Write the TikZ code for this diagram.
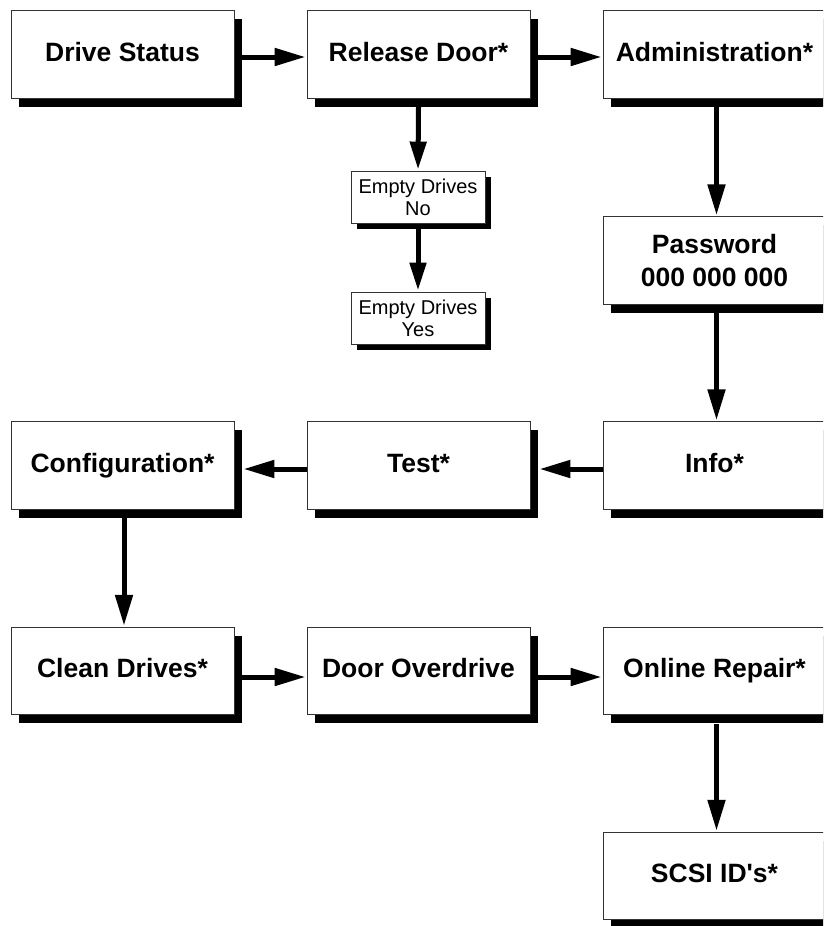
\documentclass[tikz,border=0pt]{standalone}
\usepackage{fontspec}
\setmainfont{Liberation Sans}
\usetikzlibrary{arrows.meta,shadows}
\begin{document}
\begin{tikzpicture}[x=1pt,y=-1pt,
  boxbase/.style={draw=black!80, line width=0.9pt, fill=white, inner sep=0pt, align=center},
  bigbox/.style={boxbase, minimum width=223pt, minimum height=87.5pt,
    font=\fontsize{26.5}{33}\selectfont\bfseries,
    drop shadow={shadow xshift=8pt, shadow yshift=-8.5pt, fill=black, opacity=1}},
  oneline/.style={bigbox, text height=19pt, text depth=6pt},
  smallbox/.style={boxbase, minimum width=134pt, minimum height=52pt,
    font=\fontsize{20}{22}\selectfont,
    drop shadow={shadow xshift=5.5pt, shadow yshift=-6pt, fill=black, opacity=1}},
  arr/.style={line width=5pt, -{Triangle[length=31pt,width=17pt]}, shorten >=1pt},
  sarr/.style={line width=5pt, -{Triangle[length=28pt,width=16pt]}, shorten >=1pt}]
\useasboundingbox (0,0) rectangle (823,926);
\clip (0,0) rectangle (823,926);
\fill[white] (0,0) rectangle (823,926);

\node[oneline] (DS) at (122.5,54.5) {Drive Status};
\node[oneline] (RD) at (418.5,54.5) {Release Door*};
\node[oneline] (AD) at (714.5,54.5) {Administration*};
\node[bigbox] (PW) at (714.5,260.5) {Password\\000 000 000};
\node[oneline] (CF) at (122.5,465.5) {Configuration*};
\node[oneline] (TS) at (418.5,465.5) {Test*};
\node[oneline] (IN) at (714.5,465.5) {Info*};
\node[oneline] (CD) at (122.5,671) {Clean Drives*};
\node[oneline] (DO) at (418.5,671) {Door Overdrive};
\node[oneline] (OR) at (714.5,671) {Online Repair*};
\node[oneline] (SC) at (714.5,876) {SCSI ID\textquotesingle s*};
\node[smallbox] (EN) at (418,197) {Empty Drives\\No};
\node[smallbox] (EY) at (418,318) {Empty Drives\\Yes};

% horizontal arrows
\draw[arr] ([xshift=8pt,yshift=-2.5pt]DS.east) -- ([yshift=-2.5pt]RD.west);
\draw[arr] ([xshift=8pt,yshift=-2.5pt]RD.east) -- ([yshift=-2.5pt]AD.west);
\draw[arr] ([yshift=-3.5pt]IN.west) -- ([xshift=8pt,yshift=-3.5pt]TS.east);
\draw[arr] ([yshift=-3.5pt]TS.west) -- ([xshift=8pt,yshift=-3.5pt]CF.east);
\draw[arr] ([xshift=8pt,yshift=-6pt]CD.east) -- ([yshift=-6pt]DO.west);
\draw[arr] ([xshift=8pt,yshift=-6pt]DO.east) -- ([yshift=-6pt]OR.west);
% vertical arrows
\draw[arr] ([xshift=2pt,yshift=-8.5pt]AD.south) -- ([xshift=2pt]PW.north);
\draw[arr] ([xshift=2pt,yshift=-8.5pt]PW.south) -- ([xshift=2pt]IN.north);
\draw[arr] ([xshift=1.5pt,yshift=-8.5pt]CF.south) -- ([xshift=1.5pt]CD.north);
\draw[arr] ([xshift=2pt,yshift=-8.5pt]OR.south) -- ([xshift=2pt]SC.north);
\draw[sarr] ([yshift=-8.5pt]RD.south) -- (EN.north);
\draw[sarr] ([yshift=-6pt]EN.south) -- (EY.north);
\end{tikzpicture}
\end{document}
